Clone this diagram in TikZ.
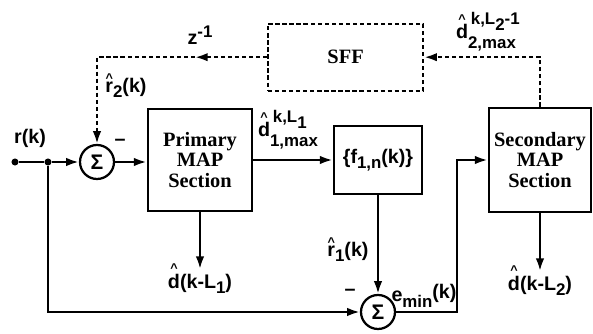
\documentclass[tikz,border=0pt]{standalone}
\usepackage{fontspec}
\setmainfont{Liberation Serif}
\setsansfont{Liberation Sans}
\usetikzlibrary{positioning,arrows.meta,calc}

\newcommand{\hatlt}[2]{\ooalign{#2\cr\hidewidth\raisebox{#1}{\fontsize{9}{9}\selectfont\textasciicircum}\hidewidth\cr}}
\newcommand{\lowr}[1]{\raisebox{-4pt}{\fontsize{12}{12}\selectfont #1}}
\newcommand{\supsub}[2]{\rlap{\raisebox{10pt}{\fontsize{12}{12}\selectfont\,#1}}\raisebox{-7pt}{\fontsize{12}{12}\selectfont #2}}

\begin{document}
\begin{tikzpicture}[
  blk/.style={draw,line width=2pt,align=center,font=\rmfamily\bfseries\fontsize{14.5}{14.5}\selectfont},
  sumnode/.style={draw,circle,line width=1.6pt,minimum size=0.85cm,inner sep=0pt,font=\sffamily\bfseries\fontsize{15}{15}\selectfont},
  lbl/.style={font=\sffamily\bfseries\fontsize{14}{16}\selectfont},
  sig/.style={line width=1.6pt,-{Latex[length=9pt,width=6pt]}},
  wire/.style={line width=1.6pt},
  fb/.style={line width=1.6pt,dash pattern=on 3pt off 2pt},
  dot/.style={circle,fill,inner sep=0pt,minimum size=5pt}]
  \useasboundingbox (0,0) rectangle (14.825,8.35);
  \node[blk,minimum width=2.6cm,minimum height=2.55cm] (pmap) at (5.0,4.35) {Primary\\MAP\\Section};
  \node[blk,minimum width=2.2cm,minimum height=1.7cm,font=\sffamily\bfseries\fontsize{14}{16}\selectfont] (filt) at (9.45,4.35) {\{f\lowr{1,n}(k)\}};
  \node[blk,minimum width=2.55cm,minimum height=2.6cm] (smap) at (13.5,4.35) {Secondary\\MAP\\Section};
  \node[blk,fb,minimum width=3.875cm,minimum height=1.675cm] (sff) at (8.64,6.92) {SFF};
  \node[sumnode] (s1) at (2.425,4.3) {Σ};
  \node[sumnode] (s2) at (9.45,0.55) {Σ};
  \node[dot] (in) at (0.375,4.3) {};
  \node[dot] (br) at (1.2,4.3) {};
  \node[lbl] (rk) at (0.75,4.9) {r(k)};
  \node[lbl] (m1) at (3.0,4.8) {--};
  \node[lbl] (r2) at (3.15,6.15) {\hatlt{7pt}{r}\lowr{2}(k)};
  \node[lbl] (zinv) at (5.0,7.475) {z\raisebox{5pt}{\fontsize{12}{12}\selectfont -1}};
  \node[lbl] (d1max) at (7.2,5.1) {\hatlt{11pt}{d}\supsub{k,L\lowr{1}}{1,max}};
  \node[lbl] (d2max) at (12.15,7.55) {\hatlt{11pt}{d}\supsub{k,L\lowr{2}-1}{2,max}};
  \node[lbl] (dl1) at (5.0,1.25) {\hatlt{11pt}{d}(k-L\lowr{1})};
  \node[lbl] (dl2) at (13.5,1.2) {\hatlt{11pt}{d}(k-L\lowr{2})};
  \node[lbl] (r1) at (8.7,2.05) {\hatlt{7pt}{r}\lowr{1}(k)};
  \node[lbl] (m2) at (8.75,1.05) {--};
  \node[lbl] (emin) at (10.6,0.95) {e\lowr{min}\raisebox{2pt}{(k)}};
  \coordinate (jn) at (11.425,0.55);
  \coordinate (zmid) at (4.875,6.92);
  \coordinate (tl) at (2.425,6.92);
  \draw[wire] (in) -- (br);
  \draw[sig] (br) -- (s1);
  \draw[sig] (s1.east) -- (s1.east -| pmap.west);
  \draw[sig] (pmap.east) -- (filt.west);
  \draw[sig] (pmap.south) -- (pmap.south |- dl1.north);
  \draw[sig] (filt.south) -- (s2.north);
  \draw[sig] (br) |- (s2);
  \draw[sig] (s2.east) -- (jn) |- (smap.west);
  \draw[sig] (smap.south) -- (smap.south |- dl2.north);
  \draw[fb,-{Latex[length=9pt,width=6pt]}] (smap.north) |- (sff.east);
  \draw[fb,-{Latex[length=9pt,width=6pt]}] (sff.west) -- (zmid);
  \draw[fb,-{Latex[length=9pt,width=6pt]}] (zmid) -- (tl) -- (s1.north);
\end{tikzpicture}
\end{document}
